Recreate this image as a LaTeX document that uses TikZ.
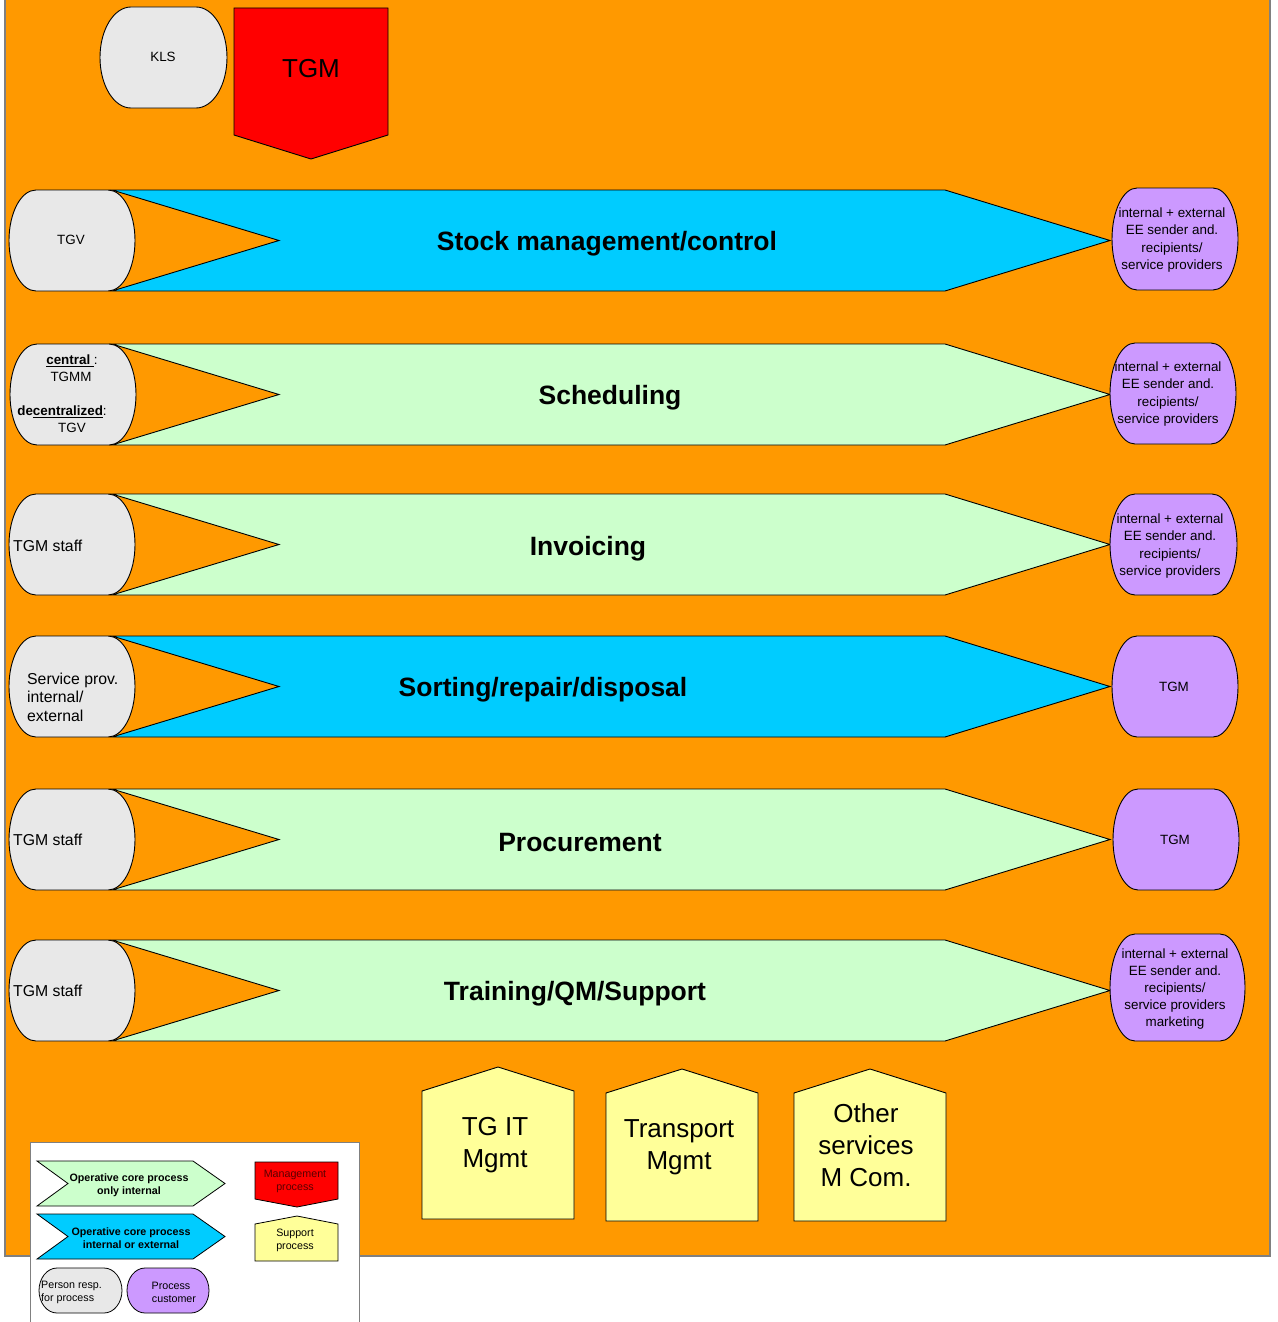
\documentclass[tikz,border=0pt]{standalone}
\usepackage{fontspec}
\setmainfont{Liberation Sans}
\definecolor{bgor}{HTML}{FF9900}
\definecolor{cblue}{HTML}{00CCFF}
\definecolor{cgreen}{HTML}{CCFFCC}
\definecolor{cpurp}{HTML}{CC99FF}
\definecolor{cgray}{HTML}{E8E8E8}
\definecolor{cyell}{HTML}{FFFF99}
\definecolor{cred}{HTML}{FF0000}
\definecolor{mgtxt}{HTML}{5A0000}
\definecolor{frame}{HTML}{808080}
\newcommand\pillat[6]{\filldraw[outl, fill=#6] ({#1+#5},#2) -- ({#3-#5},#2) arc[start angle=-90,end angle=90,x radius=#5,y radius={(#4-#2)/2}] -- ({#1+#5},#4) arc[start angle=90,end angle=270,x radius=#5,y radius={(#4-#2)/2}] -- cycle;}
\newcommand\chevron[3]{\filldraw[outl, fill=#3] (112,#1) -- (945,#1) -- (1110,{(#1+#2)/2}) -- (945,#2) -- (112,#2) -- (279,{(#1+#2)/2}) -- cycle;}
\newcommand\house[3]{\filldraw[outl, fill=cyell] (#1,1219+#3) -- (#1,1091+#3) -- ({(#1+#2)/2},1067+#3) -- (#2,1091+#3) -- (#2,1219+#3) -- cycle;}
\begin{document}
\begin{tikzpicture}[x=1pt,y=-1pt,line join=miter,
  outl/.style={draw=black, line width=0.9pt},
  ttl/.style={font=\fontsize{26.5}{30}\selectfont\bfseries, inner sep=0},
  ptxt/.style={font=\fontsize{13.4}{17}\selectfont, inner sep=0, align=center},
  stxt/.style={font=\fontsize{15.8}{18.5}\selectfont, inner sep=0, align=left, anchor=west},
  ctxt/.style={font=\fontsize{13.4}{17.2}\selectfont, inner sep=0, align=center},
  btxt/.style={font=\fontsize{26}{32}\selectfont, inner sep=0, align=center},
  ltxt/.style={font=\fontsize{10.7}{13}\selectfont, inner sep=0, align=center},
  lbtxt/.style={font=\fontsize{10.7}{13}\selectfont\bfseries, inner sep=0, align=center}]
\useasboundingbox (0,0) rectangle (1277,1322);
\fill[white] (0,0) rectangle (1277,1322);
\filldraw[fill=bgor, draw=frame, line width=1.2pt] (5,-2) rectangle (1270,1256);

% top
\pillat{100}{7}{227}{108}{31}{cgray}
\node[ptxt] (kls) at (163,57) {KLS};
\filldraw[outl, fill=cred] (234,8) -- (388,8) -- (388,135) -- (311,159) -- (234,135) -- cycle;
\node[btxt] (tgm) at (311,69) {TGM};

% row 1
\chevron{190}{291}{cblue}
\pillat{9}{190}{135}{291}{27}{cgray}
\pillat{1112}{188}{1238}{290}{25}{cpurp}
\node[ttl] (p1) at (607,244) {Stock management/control};
\node[ptxt] (r1) at (71,240) {TGV};
\node[ctxt] (c1) at (1172,240) {internal + external\\EE sender and.\\recipients/\\service providers};

% row 2
\chevron{344}{445}{cgreen}
\pillat{10}{344}{136}{445}{27}{cgray}
\pillat{1110}{343}{1236}{444}{25}{cpurp}
\node[ttl] (p2) at (610,398) {Scheduling};
\node[ptxt] (r2a) at (72,361) {\underline{\textbf{central }}:};
\node[ptxt] (r2b) at (71,377) {TGMM};
\node[ptxt] (r2c) at (62,412) {\textbf{de\underline{centralized}}:};
\node[ptxt] (r2d) at (72,428) {TGV};
\node[ctxt] (c2) at (1168,394) {internal + external\\EE sender and.\\recipients/\\service providers};

% row 3
\chevron{494}{595}{cgreen}
\pillat{9}{494}{135}{595}{27}{cgray}
\pillat{1110}{494}{1237}{595}{25}{cpurp}
\node[ttl] (p3) at (588,549) {Invoicing};
\node[stxt] (r3) at (13,546) {TGM staff};
\node[ctxt] (c3) at (1170,546) {internal + external\\EE sender and.\\recipients/\\service providers};

% row 4
\chevron{636}{737}{cblue}
\pillat{9}{636}{135}{737}{27}{cgray}
\pillat{1112}{636}{1238}{737}{25}{cpurp}
\node[ttl] (p4) at (543,690) {Sorting/repair/disposal};
\node[stxt] (r4) at (27,697) {Service prov.\\internal/\\external};
\node[ptxt] (c4) at (1174,687) {TGM};

% row 5
\chevron{789}{890}{cgreen}
\pillat{9}{789}{135}{890}{27}{cgray}
\pillat{1113}{789}{1239}{890}{25}{cpurp}
\node[ttl] (p5) at (580,843) {Procurement};
\node[stxt] (r5) at (13,840) {TGM staff};
\node[ptxt] (c5) at (1175,840) {TGM};

% row 6
\chevron{940}{1041}{cgreen}
\pillat{9}{940}{135}{1041}{27}{cgray}
\pillat{1110}{934}{1245}{1041}{25}{cpurp}
\node[ttl] (p6) at (575,994) {Training/QM/Support};
\node[stxt] (r6) at (13,991) {TGM staff};
\node[ctxt] (c6) at (1175,989) {internal + external\\EE sender and.\\recipients/\\service providers\\marketing};

% support processes
\house{422}{574}{0}
\node[btxt] (s1) at (495,1145) {TG IT\\Mgmt};
\house{606}{758}{2}
\node[btxt] (s2) at (679,1147) {Transport\\Mgmt};
\house{794}{946}{2}
\node[btxt] (s3) at (866,1145) {Other\\services\\M Com.};

% legend
\filldraw[fill=white, draw=frame, line width=1pt] (30,1142) rectangle (359,1340);
\filldraw[outl, line width=0.8pt, fill=cgreen] (37,1161) -- (193,1161) -- (225,1183.5) -- (193,1206) -- (37,1206) -- (68,1183.5) -- cycle;
\node[lbtxt] (l1) at (129,1185) {Operative core process\\only internal};
\filldraw[outl, line width=0.8pt, fill=cblue] (37,1214) -- (193,1214) -- (225,1236.5) -- (193,1259) -- (37,1259) -- (68,1236.5) -- cycle;
\node[lbtxt] (l2) at (131,1238) {Operative core process\\internal or external};
\filldraw[outl, line width=0.8pt, fill=cred] (255,1162) -- (338,1162) -- (338,1199) -- (297,1207) -- (255,1199) -- cycle;
\node[ltxt, text=mgtxt] (l3) at (295,1181) {Management\\process};
\filldraw[outl, line width=0.8pt, fill=cyell] (255,1261) -- (255,1224) -- (297,1216) -- (338,1224) -- (338,1261) -- cycle;
\node[ltxt] (l4) at (295,1240) {Support\\process};
\begin{scope}[outl/.style={draw=black, line width=0.8pt}]
\pillat{39}{1268}{122}{1313}{18}{cgray}
\pillat{127}{1268}{209}{1313}{18}{cpurp}
\end{scope}
\node[ltxt, align=left, anchor=west] (l5) at (41,1292) {Person resp.\\for process};
\node[ltxt] (l6) at (171,1292) {Process\\\ \ customer};
\end{tikzpicture}
\end{document}
